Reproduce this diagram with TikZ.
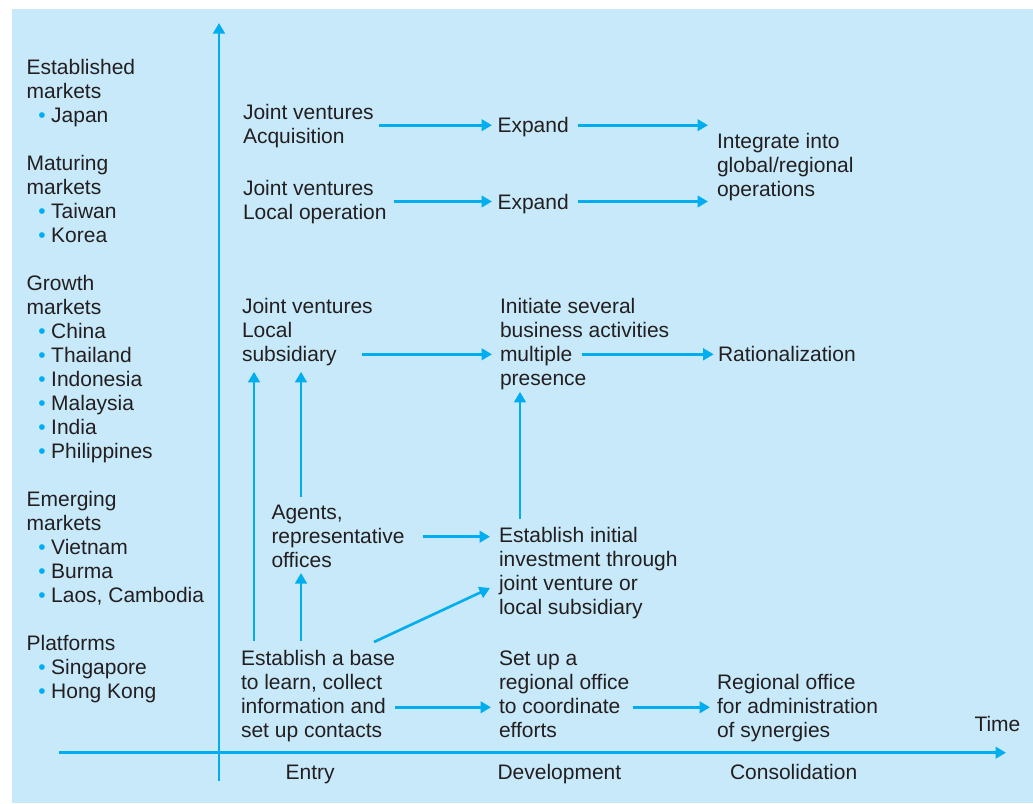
\documentclass[tikz,border=0pt]{standalone}
\usepackage{fontspec}
\setmainfont{Liberation Sans}
\usetikzlibrary{arrows.meta,calc}
\definecolor{bgc}{RGB}{199,233,249}
\definecolor{arrc}{RGB}{0,174,239}
\definecolor{txtc}{RGB}{35,31,32}
\newcommand{\lnst}{\rule[-4.5pt]{0pt}{24pt}}
\newcommand{\bul}{\hspace*{11.7pt}\makebox[12.9pt][l]{\textcolor{arrc}{•}}}
\begin{document}
\begin{tikzpicture}[x=1pt,y=-1pt,
  txt/.style={anchor=north west, inner sep=0pt, outer sep=0pt, align=left,
    font=\fontsize{21}{24}\selectfont, text=txtc},
  arr/.style={draw=arrc, line width=2.6pt, -{Triangle[length=10.5pt,width=11.5pt]}}]
\useasboundingbox (0,0) rectangle (1033,803);
\fill[bgc] (12,9) rectangle (1033,803);

% left column
\node[txt] (left) at (26.6,55.2) {\lnst Established\\ \lnst markets\\ \lnst\bul Japan\\ \lnst\\
\lnst Maturing\\ \lnst markets\\ \lnst\bul Taiwan\\ \lnst\bul Korea\\ \lnst\\
\lnst Growth\\ \lnst markets\\ \lnst\bul China\\ \lnst\bul Thailand\\ \lnst\bul Indonesia\\ \lnst\bul Malaysia\\ \lnst\bul India\\ \lnst\bul Philippines\\ \lnst\\
\lnst Emerging\\ \lnst markets\\ \lnst\bul Vietnam\\ \lnst\bul Burma\\ \lnst\bul Laos, Cambodia\\ \lnst\\
\lnst Platforms\\ \lnst\bul Singapore\\ \lnst\bul Hong Kong};

% nodes
\node[txt] (jv1) at (243,99.8) {\lnst Joint ventures\\ \lnst Acquisition};
\node[txt] (jv2) at (243,176) {\lnst Joint ventures\\ \lnst Local operation};
\node[txt] (exp1) at (497.5,113.2) {\lnst Expand};
\node[txt] (exp2) at (497.5,189.5) {\lnst Expand};
\node[txt] (integ) at (717,128.8) {\lnst Integrate into\\ \lnst global/regional\\ \lnst operations};
\node[txt] (jvs) at (242,293.8) {\lnst Joint ventures\\ \lnst Local\\ \lnst subsidiary};
\node[txt] (init) at (500,293.8) {\lnst Initiate several\\ \lnst business activities\\ \lnst multiple\\ \lnst presence};
\node[txt] (rat) at (718,341.8) {\lnst Rationalization};
\node[txt] (agents) at (271.5,499.5) {\lnst Agents,\\ \lnst representative\\ \lnst offices};
\node[txt] (estinit) at (499,522.8) {\lnst Establish initial\\ \lnst investment through\\ \lnst joint venture or\\ \lnst local subsidiary};
\node[txt] (base) at (241,646.2) {\lnst Establish a base\\ \lnst to learn, collect\\ \lnst information and\\ \lnst set up contacts};
\node[txt] (setup) at (499,645.5) {\lnst Set up a\\ \lnst regional office\\ \lnst to coordinate\\ \lnst efforts};
\node[txt] (regoff) at (717,669.5) {\lnst Regional office\\ \lnst for administration\\ \lnst of synergies};
\node[txt] (time) at (974.5,712.2) {\lnst Time};
\node[txt] (entry) at (285.6,759.5) {\lnst Entry};
\node[txt] (dev) at (497.5,759.5) {\lnst Development};
\node[txt] (consol) at (730,759.5) {\lnst Consolidation};

% axes
\coordinate (vb) at (219,781);
\coordinate (vt) at (219,23);
\coordinate (hl) at (59,752.7);
\coordinate (hr) at (1006,752.7);
\draw[arr] (vb) -- (vt);
\draw[arr] (hl) -- (hr);

% connectors
\draw[arr] ($(jv1.east |- exp1.west)+(5.5,0)$) -- ($(exp1.west)+(-5.5,0)$);
\draw[arr] ($(exp1.east)+(9,0)$) -- ($(exp1.west -| integ.west)+(-9,0)$);
\draw[arr] ($(jv2.east |- exp2.west)+(7.4,0)$) -- ($(exp2.west)+(-5.5,0)$);
\draw[arr] ($(exp2.east)+(9,0)$) -- ($(exp2.west -| integ.west)+(-9,0)$);
\draw[arr] ($(jvs.west |- rat.west)+(120,0.5)$) -- ($(init.west |- rat.west)+(-8,0.5)$);
\draw[arr] ($(init.west |- rat.west)+(81.7,0.5)$) -- ($(rat.west)+(-4.3,0.5)$);
\draw[arr] ($(estinit.north west)+(21,-4)$) -- ($(estinit.north west |- init.south)+(21,2)$);
\draw[arr] ($(agents.east)+(18,1.2)$) -- ($(agents.east -| estinit.west)+(-9,1.2)$);
\draw[arr] ($(base.north west)+(13,-5)$) -- ($(base.north west |- jvs.south)+(13,6)$);
\draw[arr] ($(agents.north west)+(29.5,-2.5)$) -- ($(agents.north west |- jvs.south)+(29.5,6)$);
\draw[arr] ($(base.north west)+(60,-5)$) -- ($(base.north west |- agents.south)+(60,1.5)$);
\draw[arr] ($(base.north west)+(133,-4.2)$) -- ($(estinit.north west)+(-9,65.2)$);
\draw[arr] ($(base.west |- regoff.west)+(154,1.8)$) -- ($(setup.west |- regoff.west)+(-8,1.8)$);
\draw[arr] ($(setup.west |- regoff.west)+(133.7,1.8)$) -- ($(regoff.west)+(-7,1.8)$);
\end{tikzpicture}
\end{document}
